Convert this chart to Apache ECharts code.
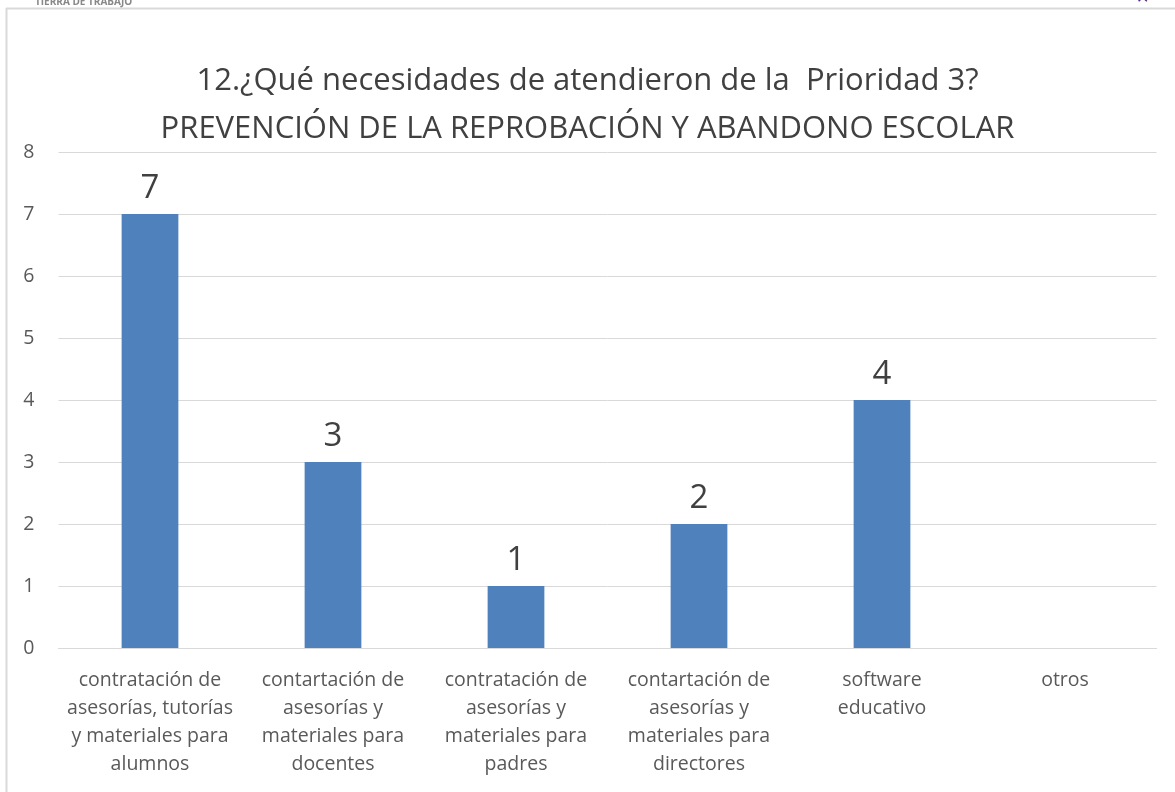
<!DOCTYPE html>
<html>
<head>
<meta charset="utf-8">
<script src="https://cdn.jsdelivr.net/npm/echarts@6/dist/echarts.min.js"></script>
<style>
html,body{margin:0;padding:0;background:#fff;}
#chart{width:1175px;height:792px;}
</style>
</head>
<body>
<div id="chart"></div>
<script>
var categories=[
    'contratación de\nasesorías, tutorías\ny materiales para\nalumnos',
    'contartación de\nasesorías y\nmateriales para\ndocentes',
    'contratación de\nasesorías y\nmateriales para\npadres',
    'contartación de\nasesorías y\nmateriales para\ndirectores',
    'software\neducativo',
    'otros'
];
var values=[7,3,1,2,4,null];
var yTicks=[0,1,2,3,4,5,6,7,8];

var FONT='"Open Sans", "Noto Sans", sans-serif';
var myChart=echarts.init(document.getElementById('chart'));

var option={
    backgroundColor:'#fff',
    animation:false,
    title:{
        text:'12.¿Qué necesidades de atendieron de la  Prioridad 3?\nPREVENCIÓN DE LA REPROBACIÓN Y ABANDONO ESCOLAR',
        left:'center',
        top:52,
        textStyle:{
            fontFamily:FONT,
            fontWeight:'normal',
            fontSize:31,
            lineHeight:48,
            color:'#404040'
        }
    },
    graphic:[
        // frame of the slide
        {type:'line',shape:{x1:6.5,y1:8,x2:6.5,y2:792},style:{stroke:'#d9d9d9',lineWidth:2}},
        {type:'line',shape:{x1:6,y1:8.5,x2:1175,y2:8.5},style:{stroke:'#d9d9d9',lineWidth:2}},
        {type:'text',left:35,top:-3,style:{text:'TIERRA DE TRABAJO',fontSize:10,fontWeight:'bold',fill:'#888',fontFamily:FONT}},
        {type:'text',left:1136,top:-9,style:{text:'✕',fontSize:16,fontWeight:'bold',fill:'#5b2a86',fontFamily:'DejaVu Sans'}}
    ],
    grid:{
        left:58.5,
        right:18.5,
        top:152,
        bottom:144,
        containLabel:false
    },
    xAxis:{
        type:'category',
        data:categories,
        axisLine:{lineStyle:{color:'#d9d9d9'}},
        axisTick:{show:false},
        axisLabel:{
            interval:0,
            margin:18,
            fontFamily:FONT,
            fontSize:19.5,
            lineHeight:28,
            color:'#595959'
        }
    },
    yAxis:{
        type:'value',
        min:0,
        max:8,
        interval:1,
        axisLine:{show:false},
        axisTick:{show:false},
        splitLine:{lineStyle:{color:'#d9d9d9',width:1}},
        axisLabel:{
            margin:24,
            fontFamily:FONT,
            fontSize:19.5,
            color:'#595959',
            formatter:function(v){return yTicks.indexOf(v)>=0?String(v):'';}
        }
    },
    series:[
        {
            type:'bar',
            data:values,
            barWidth:'31%',
            itemStyle:{color:'#4f81bd'},
            label:{
                show:true,
                position:'top',
                distance:9,
                fontFamily:FONT,
                fontSize:33,
                color:'#404040'
            }
        }
    ]
};
myChart.setOption(option);
</script>
</body>
</html>
